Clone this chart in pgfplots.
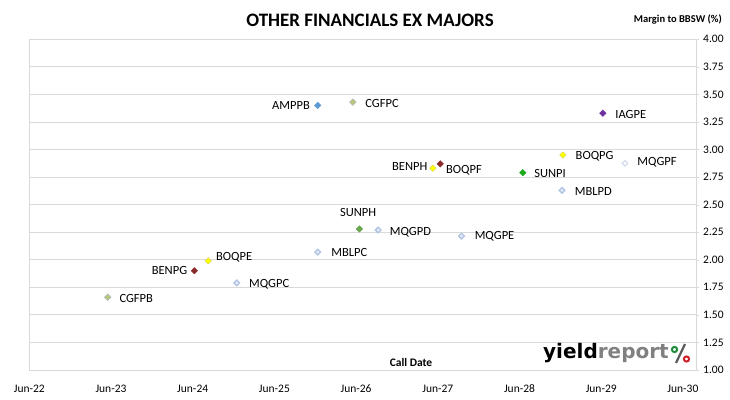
\documentclass[border=0pt]{standalone}
\usepackage{pgfplots}
\pgfplotsset{compat=1.18}
\usepackage{fontspec}
\setmainfont{Carlito}
\newfontfamily\logofont{DejaVu Sans}
\definecolor{gridgray}{HTML}{D9D9D9}
\definecolor{cBlue}{HTML}{5B9BD5}
\definecolor{cOlive}{HTML}{BCC77C}
\definecolor{cOliveE}{HTML}{A3B4B8}
\definecolor{cPurple}{HTML}{7030A0}
\definecolor{cYellow}{HTML}{FFFF00}
\definecolor{cYellowE}{HTML}{CFCB5A}
\definecolor{cRed}{HTML}{8B2A2A}
\definecolor{cGreen}{HTML}{1EAA1E}
\definecolor{cGreen2}{HTML}{6AA84F}
\definecolor{cLB}{HTML}{AFC3E3}
\definecolor{cLBfill}{HTML}{E8EEF8}
\definecolor{cLB2}{HTML}{CBD7EC}
\definecolor{logogray}{HTML}{808080}
\definecolor{logogreen}{HTML}{1E8C3C}
\definecolor{logored}{HTML}{D0202A}
\newcommand\labfont{\fontsize{12.5}{14}\selectfont}
\newcommand\tickfont{\fontsize{11.5}{13}\selectfont}
\pgfplotsset{
  mkBlue/.style={only marks, mark=square*, mark size=2.3pt, mark options={rotate=45, fill=cBlue, draw=cBlue}},
  mkOlive/.style={only marks, mark=square*, mark size=2.3pt, mark options={rotate=45, fill=cOlive, draw=cOliveE}},
  mkPurple/.style={only marks, mark=square*, mark size=2.3pt, mark options={rotate=45, fill=cPurple, draw=cPurple}},
  mkYellow/.style={only marks, mark=square*, mark size=2.3pt, mark options={rotate=45, fill=cYellow, draw=cYellowE}},
  mkRed/.style={only marks, mark=square*, mark size=2.3pt, mark options={rotate=45, fill=cRed, draw=cRed}},
  mkGreen/.style={only marks, mark=square*, mark size=2.3pt, mark options={rotate=45, fill=cGreen, draw=cGreen}},
  mkGreenB/.style={only marks, mark=square*, mark size=2.3pt, mark options={rotate=45, fill=cGreen2, draw=cGreen2}},
  mkLB/.style={only marks, mark=square*, mark size=2.0pt, mark options={rotate=45, fill=cLBfill, draw=cLB, line width=1.3pt}},
  mkLB2/.style={only marks, mark=square*, mark size=2.0pt, mark options={rotate=45, fill=white, draw=cLB2, line width=1.1pt}},
}
% x y label style anchor xshift yshift
\newcommand{\dpt}[7]{%
  \addplot[#4, nodes near coords, point meta=explicit symbolic,
    every node near coord/.append style={anchor=#5, xshift=#6pt, yshift=#7pt, inner sep=0pt, text=black, font=\labfont}]
    coordinates {(#1,#2)[#3]};}
\begin{document}
\begin{tikzpicture}
\path[use as bounding box] (0,0) rectangle (730pt,399pt);
\begin{axis}[
  at={(29.3pt,29pt)}, anchor=south west,
  scale only axis, width=666.7pt, height=330.7pt,
  xmin=0, xmax=8.16, ymin=1, ymax=4,
  xtick={0,1,2,3,4,5,6,7,8},
  xticklabels={Jun-22,Jun-23,Jun-24,Jun-25,Jun-26,Jun-27,Jun-28,Jun-29,Jun-30},
  xtick style={draw=none},
  xticklabel style={anchor=center, yshift=-16pt, font=\tickfont},
  ytick={1,1.25,...,4.01},
  ytick pos=right, yticklabel pos=right,
  ytick style={draw=gridgray},
  tick align=outside, major tick length=3pt,
  /pgf/number format/assume math mode=true,
  yticklabel style={/pgf/number format/fixed, /pgf/number format/fixed zerofill, /pgf/number format/precision=2, anchor=west, inner sep=0pt, xshift=4pt, font=\tickfont},
  ymajorgrids, grid style={gridgray, line width=0.8pt},
  axis line style={gridgray, line width=0.8pt},
  clip=false,
]
\dpt{3.53}{3.40}{AMPPB}{mkBlue}{east}{-7.7}{0}
\dpt{3.96}{3.43}{CGFPC}{mkOlive}{west}{12.3}{-1.6}
\dpt{7.02}{3.33}{IAGPE}{mkPurple}{west}{12.3}{-1.3}
\dpt{4.94}{2.83}{BENPH}{mkYellow}{east}{-5.4}{2}
\dpt{5.03}{2.87}{BOQPF}{mkRed}{west}{5.7}{-6}
\dpt{6.04}{2.79}{SUNPI}{mkGreen}{west}{11.3}{-0.6}
\dpt{6.53}{2.95}{BOQPG}{mkYellow}{west}{12.7}{-1.7}
\dpt{7.29}{2.875}{MQGPF}{mkLB2}{west}{12}{0.6}
\dpt{6.52}{2.63}{MBLPD}{mkLB}{west}{12.3}{-1}
\dpt{4.04}{2.28}{SUNPH}{mkGreenB}{south}{-1.3}{12.5}
\dpt{4.27}{2.27}{MQGPD}{mkLB}{west}{11}{-2.3}
\dpt{5.29}{2.215}{MQGPE}{mkLB}{west}{12.6}{-0.7}
\dpt{3.53}{2.07}{MBLPC}{mkLB}{west}{13}{0}
\dpt{2.19}{1.99}{BOQPE}{mkYellow}{west}{7.7}{3.4}
\dpt{2.02}{1.90}{BENPG}{mkRed}{east}{-7}{0}
\dpt{2.54}{1.79}{MQGPC}{mkLB}{west}{11.6}{-1.3}
\dpt{0.96}{1.66}{CGFPB}{mkOlive}{west}{11.6}{-1}
\end{axis}
\node[font=\fontsize{19}{22}\selectfont\bfseries, inner sep=0pt] at (370pt,379pt) {OTHER FINANCIALS EX MAJORS};
\node[font=\fontsize{10.5}{12}\selectfont\bfseries, inner sep=0pt, anchor=east] at (722pt,380pt) {Margin to BBSW (\%)};
\node[font=\fontsize{11.5}{13}\selectfont\bfseries, inner sep=0pt] at (411pt,36pt) {Call Date};
\node[font=\logofont\bfseries\fontsize{20}{22}\selectfont, inner sep=0pt, anchor=base west] at (543pt,41pt) {yield\textcolor{logogray}{report}};
\draw[line width=2.2pt, logogray!70!black] (676pt,36pt) -- (685pt,55pt);
\draw[logogreen, line width=2pt] (674.5pt,49.5pt) circle (2.6pt);
\draw[logored, line width=2pt] (686.5pt,40pt) circle (2.6pt);
\end{tikzpicture}
\end{document}
